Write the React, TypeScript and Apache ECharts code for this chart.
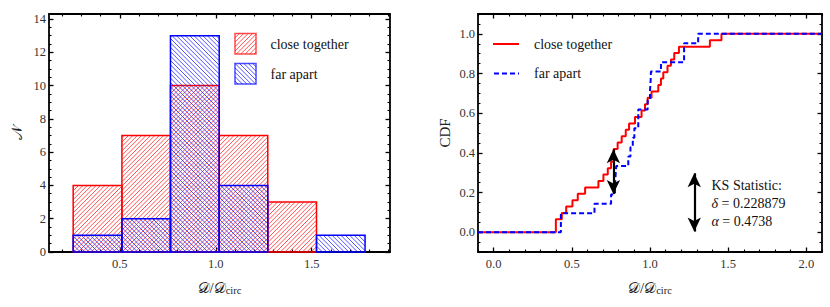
import React, { useEffect, useRef } from "react";
import * as echarts from "echarts";

// ---------- data ----------
const binEdges = [0.257, 0.511, 0.764, 1.018, 1.271, 1.525, 1.778];
const closeCounts = [4, 7, 10, 7, 3, 0];
const farCounts = [1, 2, 13, 4, 0, 1];

// sample positions of each group (steps of the empirical CDF)
const closeSample = [
  0.398, 0.398, 0.436, 0.464, 0.504, 0.538, 0.585, 0.67, 0.702, 0.73, 0.751,
  0.768, 0.768, 0.793, 0.819, 0.845, 0.866, 0.904, 0.946, 0.968, 0.985, 1.01,
  1.053, 1.07, 1.085, 1.112, 1.134, 1.155, 1.185, 1.383, 1.457,
];
const farSample = [
  0.43, 0.43, 0.645, 0.751, 0.776, 0.78, 0.784, 0.861, 0.875, 0.89, 0.9, 0.925,
  0.925, 0.985, 1.0, 1.004, 1.006, 1.07, 1.218, 1.218, 1.308,
];

const seriesNames = ["close together", "far apart"];

// tick labels
const histXMajor = [0.5, 1.0, 1.5];
const histYMajor = [0, 2, 4, 6, 8, 10, 12, 14];
const cdfXMajor = [0, 0.5, 1.0, 1.5, 2.0];
const cdfYMajor = [0, 0.2, 0.4, 0.6, 0.8, 1.0];

const ksTitle = "KS Statistic:";
const ksDelta = "0.228879";
const ksAlpha = "0.4738";
const ksGap = { x: 0.766, y0: 0.193, y1: 0.418 };
const ksKey = { x: 1.283, y0: 0.003, y1: 0.297 };

// ---------- helpers ----------
const FONT = "Liberation Serif";
const RED = "#ff0000";
const BLUE = "#0000ff";
const RED_H = "rgba(255,40,40,0.8)";
const BLUE_H = "rgba(40,40,255,0.8)";
const HATCH = 4.4;

function steps(a: number, b: number, s: number, skip: number[]) {
  const out: number[] = [];
  const n = Math.round((b - a) / s);
  for (let i = 0; i <= n; i++) {
    const v = +(a + i * s).toFixed(4);
    if (!skip.some((k) => Math.abs(k - v) < 1e-6)) out.push(v);
  }
  return out;
}

function hatchSegments(x0: number, y0: number, x1: number, y1: number, dir: number, p: number) {
  const segs: number[][] = [];
  if (dir > 0) {
    const cStart = Math.ceil((x0 + y0) / p) * p;
    for (let c = cStart; c <= x1 + y1; c += p) {
      const xa = Math.max(x0, c - y1);
      const xb = Math.min(x1, c - y0);
      if (xb - xa > 0.2) segs.push([xa, c - xa, xb, c - xb]);
    }
  } else {
    const cStart = Math.ceil((x0 - y1) / p) * p;
    for (let c = cStart; c <= x1 - y0; c += p) {
      const xa = Math.max(x0, c + y0);
      const xb = Math.min(x1, c + y1);
      if (xb - xa > 0.2) segs.push([xa, xa - c, xb, xb - c]);
    }
  }
  return segs;
}

function hatchedBox(x0: number, y0: number, x1: number, y1: number, dir: number, hatch: string, edge: string) {
  const segs = hatchSegments(x0, y0, x1, y1, dir, HATCH);
  return [
    ...segs.map((s) => ({
      type: "line",
      shape: { x1: s[0], y1: s[1], x2: s[2], y2: s[3] },
      style: { stroke: hatch, lineWidth: 1 },
    })),
    {
      type: "rect",
      shape: { x: x0, y: y0, width: x1 - x0, height: y1 - y0 },
      style: { fill: "transparent", stroke: edge, lineWidth: 1.5 },
    },
  ];
}

function ecdf(sample: number[], xmin: number, xmax: number) {
  const s = [...sample].sort((a, b) => a - b);
  const n = s.length;
  const pts: number[][] = [[xmin, 0]];
  s.forEach((v, i) => {
    if (i + 1 < n && s[i + 1] === v) return;
    pts.push([v, (i + 1) / n]);
  });
  pts.push([xmax, 1]);
  return pts;
}

function frameAxes(
  gridIndex: number,
  dim: "x" | "y",
  min: number,
  max: number,
  majors: number[],
  minors: number[],
  fmt: (v: number) => string,
  extra: any
) {
  const pos = dim === "x" ? ["bottom", "top"] : ["left", "right"];
  const base = {
    type: "value",
    gridIndex,
    min,
    max,
    splitLine: { show: false },
    axisLine: { show: true, onZero: false, lineStyle: { color: "#000", width: 1.8 } },
  };
  const axes: any[] = [];
  pos.forEach((p, k) => {
    axes.push({
      ...base,
      position: p,
      axisTick: { show: true, inside: true, length: 4.5, customValues: majors, lineStyle: { color: "#000", width: 1.3 } },
      axisLabel: {
        show: k === 0,
        customValues: majors,
        formatter: fmt,
        fontFamily: FONT,
        fontSize: 12.5,
        color: "#333",
        margin: dim === "x" ? 5 : 3,
      },
      ...(k === 0 ? extra : {}),
    });
    axes.push({
      ...base,
      position: p,
      axisLine: { show: false, onZero: false },
      axisTick: { show: true, inside: true, length: 2.5, customValues: minors, lineStyle: { color: "#000", width: 1.1 } },
      axisLabel: { show: false },
    });
  });
  return axes;
}

const dLabel = {
  rich: {
    d: { fontFamily: FONT, fontSize: 15, color: "#222" },
    s: { fontFamily: FONT, fontSize: 10.5, color: "#222", padding: [6, 0, 0, 0] },
  },
};

const txt = (x: number, y: number, text: string, rich?: any) => ({
  type: "text",
  x,
  y,
  style: {
    text,
    fontFamily: FONT,
    fontSize: 14,
    fill: "#111",
    verticalAlign: "middle",
    ...(rich ? { rich } : {}),
  },
});

const italicRich = { i: { fontStyle: "italic", fontFamily: FONT, fontSize: 14, fill: "#111" } };

export default function App() {
  const ref = useRef<HTMLDivElement>(null);
  useEffect(() => {
    if (!ref.current) return;
    const chart = echarts.init(ref.current, undefined, { renderer: "svg", width: 830, height: 307 });

    const histMin = 0.131, histMax = 1.908, histYMax = 14.3;
    const cdfMin = -0.1, cdfMax = 2.1, cdfYMin = -0.1, cdfYMax = 1.1;

    const xAxes = [
      ...frameAxes(0, "x", histMin, histMax, histXMajor, steps(0.2, 1.9, 0.1, histXMajor), (v) => v.toFixed(1), {
        name: "{d|𝒟/𝒟}{s|circ}",
        nameLocation: "middle",
        nameGap: 27,
        nameTextStyle: dLabel,
      }),
      ...frameAxes(1, "x", cdfMin, cdfMax, cdfXMajor, steps(-0.1, 2.1, 0.1, cdfXMajor), (v) => v.toFixed(1), {
        name: "{d|𝒟/𝒟}{s|circ}",
        nameLocation: "middle",
        nameGap: 27,
        nameTextStyle: dLabel,
      }),
    ];
    const yAxes = [
      ...frameAxes(0, "y", 0, histYMax, histYMajor, steps(0.5, 14, 0.5, histYMajor), (v) => String(Math.round(v)), {
        name: "𝒩",
        nameLocation: "middle",
        nameGap: 25,
        nameTextStyle: { fontFamily: FONT, fontSize: 15, color: "#222" },
      }),
      ...frameAxes(1, "y", cdfYMin, cdfYMax, cdfYMajor, steps(-0.1, 1.1, 0.05, cdfYMajor), (v) => v.toFixed(1), {
        name: "CDF",
        nameLocation: "middle",
        nameGap: 26,
        nameTextStyle: { fontFamily: FONT, fontSize: 15, color: "#222" },
      }),
    ];

    const histSeries = (idx: number, counts: number[], dir: number, hatch: string, edge: string) => ({
      type: "custom",
      name: seriesNames[idx],
      xAxisIndex: 0,
      yAxisIndex: 0,
      dimensions: ["x0", "x1", "n"],
      encode: { x: [0, 1], y: 2 },
      data: counts
        .map((c, i) => [binEdges[i], binEdges[i + 1], c])
        .filter((d) => d[2] > 0),
      renderItem: (_p: any, api: any) => {
        const a = api.coord([api.value(0), api.value(2)]);
        const b = api.coord([api.value(1), 0]);
        const x0 = Math.min(a[0], b[0]), x1 = Math.max(a[0], b[0]);
        const y0 = Math.min(a[1], b[1]), y1 = Math.max(a[1], b[1]);
        return { type: "group", children: hatchedBox(x0, y0, x1, y1, dir, hatch, edge) };
      },
    });

    const legendLeft = [
      { type: "group", children: hatchedBox(235, 33.5, 256, 54, 1, RED_H, "rgba(255,0,0,0.7)") },
      { type: "group", children: hatchedBox(235, 63.5, 256, 84, -1, BLUE_H, "rgba(0,0,255,0.7)") },
      txt(270.5, 44, seriesNames[0]),
      txt(270.5, 74, seriesNames[1]),
    ];
    const legendRight = [
      { type: "line", shape: { x1: 493, y1: 44, x2: 519, y2: 44 }, style: { stroke: RED, lineWidth: 2 } },
      { type: "line", shape: { x1: 494, y1: 73.5, x2: 519, y2: 73.5 }, style: { stroke: BLUE, lineWidth: 2, lineDash: [5, 3] } },
      txt(534, 44, seriesNames[0]),
      txt(534, 73.5, seriesNames[1]),
    ];
    const ksText = [
      txt(711.5, 185, ksTitle),
      txt(711.5, 203.5, `{i|δ} = ${ksDelta}`, italicRich),
      txt(711.5, 221.5, `{i|α} = ${ksAlpha}`, italicRich),
    ];

    chart.setOption({
      animation: false,
      backgroundColor: "#fff",
      textStyle: { fontFamily: FONT },
      grid: [
        { left: 49, top: 14, width: 341, height: 238 },
        { left: 478, top: 14, width: 344, height: 238 },
      ],
      xAxis: xAxes,
      yAxis: yAxes,
      series: [
        histSeries(0, closeCounts, 1, RED_H, RED),
        histSeries(1, farCounts, -1, BLUE_H, BLUE),
        {
          type: "line",
          name: seriesNames[0],
          xAxisIndex: 4,
          yAxisIndex: 4,
          step: "end",
          showSymbol: false,
          data: ecdf(closeSample, cdfMin, cdfMax),
          lineStyle: { color: RED, width: 2 },
          itemStyle: { color: RED },
        },
        {
          type: "line",
          name: seriesNames[1],
          xAxisIndex: 4,
          yAxisIndex: 4,
          step: "end",
          showSymbol: false,
          data: ecdf(farSample, cdfMin, cdfMax),
          lineStyle: { color: BLUE, width: 2, type: [5, 3] },
          itemStyle: { color: BLUE },
          markLine: {
            silent: true,
            symbol: ["arrow", "arrow"],
            symbolSize: [10, 14],
            label: { show: false },
            lineStyle: { color: "#000", width: 2.2, type: "solid" },
            data: [
              [{ coord: [ksGap.x, ksGap.y0] }, { coord: [ksGap.x, ksGap.y1] }],
              [{ coord: [ksKey.x, ksKey.y0] }, { coord: [ksKey.x, ksKey.y1] }],
            ],
          },
        },
      ],
      graphic: { elements: [...legendLeft, ...legendRight, ...ksText] },
    });
    return () => chart.dispose();
  }, []);
  return <div ref={ref} style={{ position: "absolute", left: 0, top: 0, width: 830, height: 307 }} />;
}
